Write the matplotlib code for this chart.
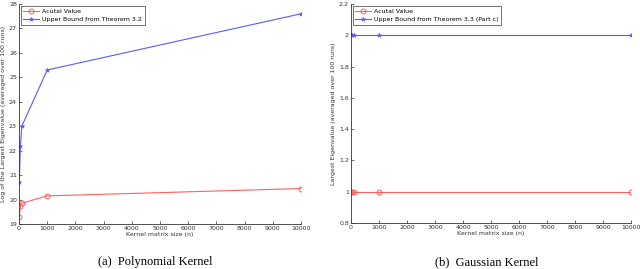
import matplotlib
matplotlib.use("Agg")
import matplotlib.pyplot as plt

n_poly = [10, 50, 100, 1000, 10000]
poly_actual = [19.3, 19.75, 19.85, 20.15, 20.45]
poly_bound = [20.7, 22.2, 23.0, 25.3, 27.6]

n_gauss = [10, 50, 100, 1000, 10000]
gauss_actual = [1.0, 1.0, 1.0, 1.0, 1.0]
gauss_bound = [2.0, 2.0, 2.0, 2.0, 2.0]

xticks = list(range(0, 10001, 1000))

red = "#ff6060"
blue = "#5a5aff"
small = 4.5

fig = plt.figure(figsize=(6.4, 2.69), dpi=100)
ax1 = fig.add_axes([19 / 640, 1 - 224 / 269, 282 / 640, 220 / 269])
ax2 = fig.add_axes([351 / 640, 1 - 223 / 269, 280 / 640, 219 / 269])


def style(ax):
    for side in ["top", "right"]:
        ax.spines[side].set_visible(False)
    for side in ["left", "bottom"]:
        ax.spines[side].set_linewidth(0.6)
        ax.spines[side].set_color("#333333")
    ax.tick_params(direction="in", length=2, width=0.5, labelsize=small, pad=1.5, colors="#333333")
    ax.set_xticks(xticks)
    ax.set_xlim(0, 10000)
    ax.set_xlabel("Kernel matrix size (n)", fontsize=small, labelpad=1, color="#333333")


ax1.plot(n_poly, poly_actual, color=red, marker="o", mfc="none", ms=3.5, mew=0.7, lw=0.8, label="Acutal Value")
ax1.plot(n_poly, poly_bound, color=blue, marker="*", ms=3, mew=0.5, lw=0.8, label="Upper Bound from Theorem 3.2")
style(ax1)
ax1.set_ylim(19, 28)
ax1.set_yticks(range(19, 29))
ax1.set_ylabel("Log of the Largest Eigenvalue (averaged over 100 runs)", fontsize=small, labelpad=2, color="#333333")
leg1 = ax1.legend(loc="upper left", fontsize=small, frameon=True, fancybox=False, borderpad=0.4,
                  handlelength=2.5, handletextpad=0.5, borderaxespad=0.3, edgecolor="#333333")
leg1.get_frame().set_linewidth(0.6)

ax2.plot(n_gauss, gauss_actual, color=red, marker="o", mfc="none", ms=3.5, mew=0.7, lw=0.8, label="Acutal Value")
ax2.plot(n_gauss, gauss_bound, color=blue, marker="*", ms=3, mew=0.5, lw=0.8, label="Upper Bound from Theorem 3.3 (Part c)")
style(ax2)
ax2.set_ylim(0.8, 2.2)
ax2.set_yticks([0.8, 1.0, 1.2, 1.4, 1.6, 1.8, 2.0, 2.2])
ax2.set_yticklabels(["0.8", "1", "1.2", "1.4", "1.6", "1.8", "2", "2.2"])
ax2.set_ylabel("Largest Eigenvalue (averaged over 100 runs)", fontsize=small, labelpad=2, color="#333333")
leg2 = ax2.legend(loc="upper left", fontsize=small, frameon=True, fancybox=False, borderpad=0.4,
                  handlelength=2.5, handletextpad=0.5, borderaxespad=0.3, edgecolor="#333333")
leg2.get_frame().set_linewidth(0.6)

fig.text(155 / 640, 1 - 262 / 269, "(a)  Polynomial Kernel", fontsize=9, family="Liberation Serif",
         ha="center", va="center")
fig.text(487 / 640, 1 - 262 / 269, "(b)  Gaussian Kernel", fontsize=9, family="Liberation Serif",
         ha="center", va="center")

fig.savefig("out.png", dpi=100)
